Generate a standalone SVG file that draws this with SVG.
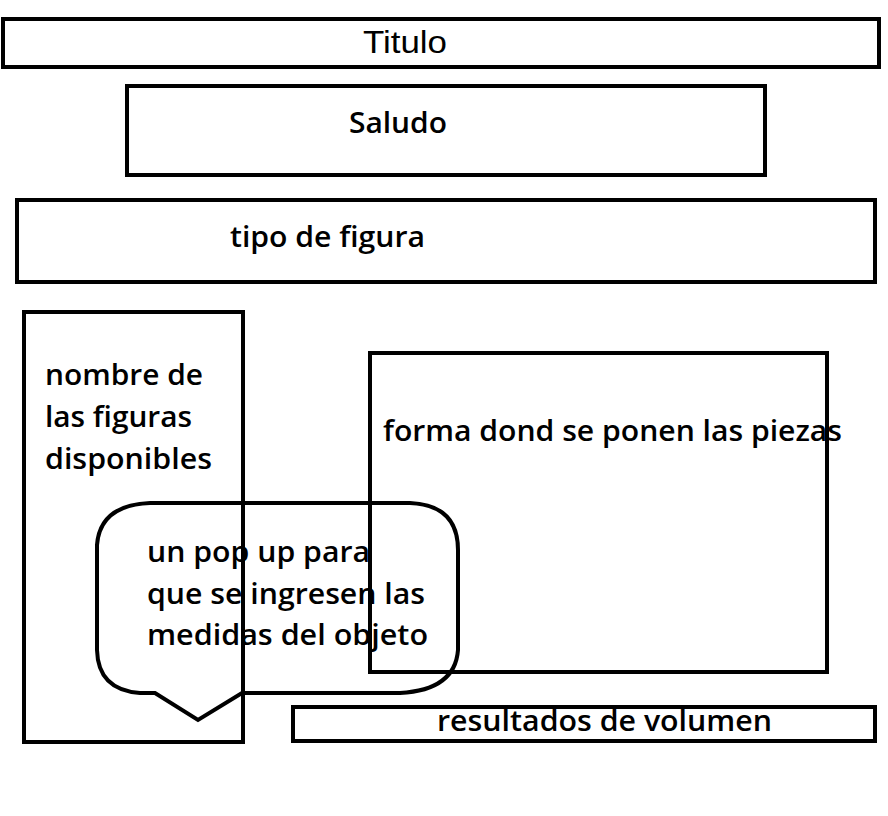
<svg xmlns="http://www.w3.org/2000/svg" width="888" height="816" viewBox="0 0 888 816">
<style>
.box{fill:none;stroke:#000;stroke-width:4}
.t{font-family:"Open Sans","Liberation Sans",sans-serif;font-weight:600;font-size:28px;fill:#000}
.n{font-family:"Liberation Sans",sans-serif;font-size:31px;fill:#000}
</style>
<rect width="888" height="816" fill="#fff"/>
<g id="titulo"><rect class="box" x="3" y="19" width="876" height="48"/><text class="n" x="363" y="53" textLength="84" lengthAdjust="spacingAndGlyphs">Titulo</text></g>
<g id="saludo"><rect class="box" x="127" y="86" width="638" height="89"/><text class="t" x="349" y="133" textLength="98" lengthAdjust="spacingAndGlyphs">Saludo</text></g>
<g id="tipo"><rect class="box" x="17" y="200" width="858" height="82"/><text class="t" x="230" y="247" textLength="195" lengthAdjust="spacingAndGlyphs">tipo de figura</text></g>
<g id="nombres"><rect class="box" x="24" y="312" width="219" height="430"/>
<text class="t" x="45" y="385" textLength="158" lengthAdjust="spacingAndGlyphs">nombre de</text>
<text class="t" x="45" y="427" textLength="147" lengthAdjust="spacingAndGlyphs">las figuras</text>
<text class="t" x="45" y="469" textLength="167" lengthAdjust="spacingAndGlyphs">disponibles</text></g>
<g id="forma"><rect class="box" x="370" y="353" width="457" height="319"/><text class="t" x="383" y="441" textLength="459" lengthAdjust="spacingAndGlyphs">forma dond se ponen las piezas</text></g>
<g id="resultados"><rect class="box" x="293" y="707" width="582" height="34"/><text class="t" x="437" y="731" textLength="335" lengthAdjust="spacingAndGlyphs">resultados de volumen</text></g>
<g id="popup"><path class="box" d="M150,503 L410,503 Q458,505 458,550 L458,650 Q455,690 400,693 L242,693 L198,720 L155,693 L140,693 Q98,690 97,650 L97,545 Q100,505 150,503 Z"/>
<text class="t" x="147" y="562" textLength="223" lengthAdjust="spacingAndGlyphs">un pop up para</text>
<text class="t" x="147" y="604" textLength="278" lengthAdjust="spacingAndGlyphs">que se ingresen las</text>
<text class="t" x="147" y="645" textLength="281" lengthAdjust="spacingAndGlyphs">medidas del objeto</text></g>
<g id="connectors"/>
</svg>
